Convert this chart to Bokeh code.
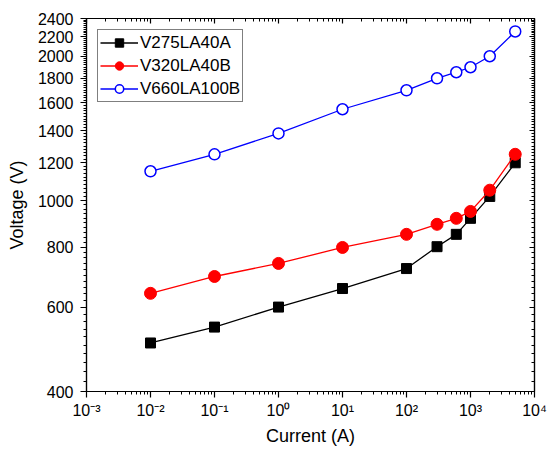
import numpy as np
from bokeh.plotting import figure
from bokeh.models import (FixedTicker, LogAxis, Legend, LegendItem, Range1d,
                          CustomJSTickFormatter)
from bokeh.embed import file_html
from bokeh.resources import INLINE

# ---- data ----
current = [0.01, 0.1, 1, 10, 100, 300, 600, 1000, 2000, 5000]
v275la40a = [505, 545, 600, 656, 722, 802, 851, 919, 1021, 1200]
v320la40b = [641, 695, 740, 799, 851, 893, 919, 950, 1052, 1250]
v660la100b = [1152, 1250, 1382, 1552, 1700, 1801, 1854, 1899, 2002, 2255]
series_names = ["V275LA40A", "V320LA40B", "V660LA100B"]

x_ticks = [1e-3, 1e-2, 1e-1, 1e0, 1e1, 1e2, 1e3, 1e4]
x_tick_labels = ["10⁻³", "10⁻²", "10⁻¹", "10⁰", "10¹", "10²", "10³", "10⁴"]
y_ticks = [400, 600, 800, 1000, 1200, 1400, 1600, 1800, 2000, 2200, 2400]

# minor tick positions (axis decoration)
x_minor = [m * d for d in x_ticks[:-1] for m in range(2, 10)]
y_minor = list(range(420, 2400, 20))

FONT = "Liberation Sans"

p = figure(width=547, height=449, x_axis_type="log", y_axis_type="log",
           x_range=Range1d(1e-3, 1e4), y_range=Range1d(400, 2400),
           output_backend="svg", toolbar_location=None,
           min_border_left=86, min_border_right=13, min_border_top=18,
           min_border_bottom=58)
p.grid.visible = False
p.outline_line_color = "black"
p.outline_line_width = 1.2
p.background_fill_color = "white"
p.border_fill_color = "white"

xt = FixedTicker(ticks=x_ticks, minor_ticks=x_minor)
yt = FixedTicker(ticks=y_ticks, minor_ticks=y_minor)

# bottom axis
xa = p.xaxis[0]
xa.ticker = xt
xa.formatter = CustomJSTickFormatter(
    args=dict(labels=x_tick_labels),
    code="return labels[Math.round(Math.log10(tick)) + 3];")
xa.axis_label = "Current (A)"
# left axis
ya = p.yaxis[0]
ya.ticker = yt
ya.formatter = CustomJSTickFormatter(code="return Math.round(tick).toString();")
ya.axis_label = "Voltage (V)"

for ax in (xa, ya):
    ax.axis_line_color = "black"
    ax.axis_line_width = 1.2
    ax.major_tick_line_color = "black"
    ax.minor_tick_line_color = "black"
    ax.major_tick_line_width = 1.2
    ax.minor_tick_line_width = 1.0
    ax.major_tick_in = 0
    ax.major_tick_out = 6
    ax.minor_tick_in = 0
    ax.minor_tick_out = 3
    ax.major_label_text_font = FONT
    ax.major_label_text_font_size = "16px"
    ax.major_label_text_color = "black"
    ax.axis_label_text_font = FONT
    ax.axis_label_text_font_size = "18px"
    ax.axis_label_text_font_style = "normal"
    ax.axis_label_text_color = "black"
xa.major_label_standoff = 4
xa.axis_label_standoff = 4
ya.major_label_standoff = 7
ya.axis_label_standoff = 8

# mirror axes (top / right) with inward ticks, no labels
blank = CustomJSTickFormatter(code="return '';")
top = LogAxis(ticker=xt, formatter=blank, major_label_standoff=0,
              major_tick_in=5, major_tick_out=0, minor_tick_in=3, minor_tick_out=0,
              axis_line_width=1.2, major_tick_line_width=1.2)
right = LogAxis(ticker=yt, formatter=blank, major_label_standoff=0,
                major_tick_in=5, major_tick_out=0, minor_tick_in=3, minor_tick_out=0,
                axis_line_width=1.2, major_tick_line_width=1.2)
p.add_layout(top, "above")
p.add_layout(right, "right")

# series
l1 = p.line(current, v275la40a, line_color="black", line_width=1.3)
m1 = p.scatter(current, v275la40a, marker="square", size=10,
               fill_color="black", line_color="black")
l2 = p.line(current, v320la40b, line_color="red", line_width=1.3)
m2 = p.scatter(current, v320la40b, marker="circle", size=12,
               fill_color="red", line_color="red")
l3 = p.line(current, v660la100b, line_color="blue", line_width=1.3)
m3 = p.scatter(current, v660la100b, marker="circle", size=11,
               fill_color="white", line_color="blue", line_width=1.5)

legend = Legend(items=[
    LegendItem(label=series_names[0], renderers=[l1, m1]),
    LegendItem(label=series_names[1], renderers=[l2, m2]),
    LegendItem(label=series_names[2], renderers=[l3, m3]),
], location="top_left")
legend.label_text_font = FONT
legend.label_text_font_size = "17px"
legend.label_text_color = "black"
legend.glyph_width = 38
legend.glyph_height = 21
legend.label_height = 21
legend.label_standoff = 2
legend.spacing = 2
legend.padding = 2
legend.margin = 11
legend.border_line_color = "black"
legend.border_line_width = 1.2
legend.background_fill_color = "white"
legend.background_fill_alpha = 1.0
p.add_layout(legend, "center")

open("out.html", "w").write(file_html(p, INLINE))
